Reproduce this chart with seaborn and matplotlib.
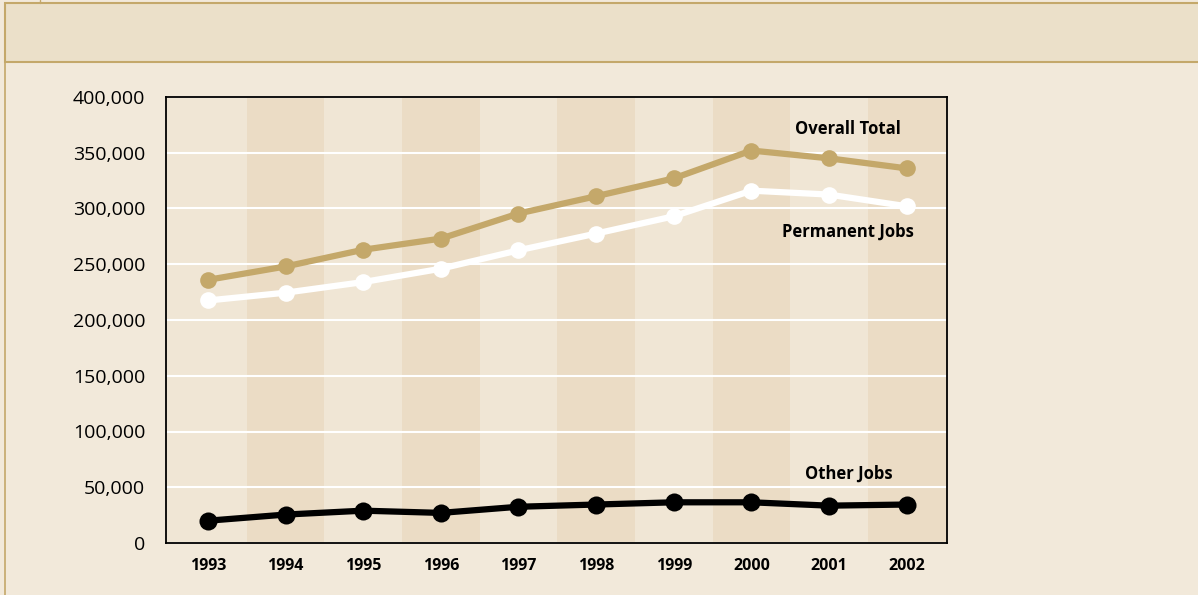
import pandas as pd
import matplotlib.pyplot as plt
import seaborn as sns
from matplotlib.patches import Rectangle
from matplotlib.lines import Line2D
from matplotlib.ticker import FuncFormatter

# Job counts by year
years = [1993, 1994, 1995, 1996, 1997, 1998, 1999, 2000, 2001, 2002]
overall_total = [236000, 248000, 263000, 273000, 295500, 311000, 327000, 352000, 345000, 336000]
permanent_jobs = [217500, 224500, 234000, 246000, 262500, 277500, 293000, 316000, 312500, 302000]
other_jobs = [20000, 25500, 29000, 27000, 32500, 34500, 36500, 36500, 33500, 34500]

y_ticks = [0, 50000, 100000, 150000, 200000, 250000, 300000, 350000, 400000]

# Colours
page_bg = '#f2e9da'
header_bg = '#ebe0c9'
tan = '#c4a86a'
stripe_light = '#f0e6d5'
stripe_dark = '#ebdcc5'

sns.set_theme(style='white')
plt.rcParams['font.family'] = ['Open Sans', 'DejaVu Sans']

fig = plt.figure(figsize=(11.98, 5.95), dpi=100, facecolor=page_bg)
ax = fig.add_axes([166 / 1198, 1 - 543 / 595, (947 - 166) / 1198, (543 - 97) / 595])

# Header band and outer frame
fig.patches.append(Rectangle((5 / 1198, 1 - 62 / 595), 1.0, 59 / 595, transform=fig.transFigure,
                             facecolor=header_bg, edgecolor=tan, linewidth=1.5, zorder=0))
fig.lines.append(Line2D([5 / 1198, 5 / 1198], [0, 1 - 3 / 595], transform=fig.transFigure,
                        color=tan, linewidth=1.2))
fig.lines.append(Line2D([40 / 1198, 40 / 1198], [1 - 3 / 595, 1], transform=fig.transFigure,
                        color=tan, linewidth=1.0))

# Alternating column shading (outer columns run to the frame)
for i, yr in enumerate(years):
    left = yr - (1.0 if i == 0 else 0.5)
    right = yr + (1.0 if i == len(years) - 1 else 0.5)
    ax.axvspan(left, right, color=stripe_dark if i % 2 else stripe_light, zorder=0, lw=0)

df = pd.DataFrame({'year': years, 'Overall Total': overall_total,
                   'Permanent Jobs': permanent_jobs, 'Other Jobs': other_jobs})

sns.lineplot(data=df, x='year', y='Overall Total', ax=ax, color=tan, linewidth=4.5,
             marker='o', markersize=12, markeredgewidth=0, zorder=3)
sns.lineplot(data=df, x='year', y='Permanent Jobs', ax=ax, color='white', linewidth=4.5,
             marker='o', markersize=12, markeredgewidth=0, zorder=3)
sns.lineplot(data=df, x='year', y='Other Jobs', ax=ax, color='black', linewidth=4.5,
             marker='o', markersize=13, markeredgewidth=0, zorder=3)

ax.set_xlim(years[0] - 0.54, years[-1] + 0.52)
ax.set_ylim(0, 400000)
ax.set_xticks(years)
ax.set_yticks(y_ticks)
ax.yaxis.set_major_formatter(FuncFormatter(lambda v, p: f'{int(v):,}'))
ax.set_xlabel('')
ax.set_ylabel('')
ax.grid(axis='y', color='white', linewidth=1.5, zorder=1)
ax.grid(axis='x', visible=False)
ax.set_axisbelow(True)

for s in ax.spines.values():
    s.set_color('black')
    s.set_linewidth(1.3)

ax.tick_params(axis='y', length=0, pad=15, labelsize=14, labelcolor='black')
ax.tick_params(axis='x', length=0, pad=11, labelsize=11.5, labelcolor='black')
for lbl in ax.get_xticklabels():
    lbl.set_fontweight('bold')

ax.text(2001.25, 371000, 'Overall Total', ha='center', va='center', fontsize=12,
        fontweight='bold', color='black')
ax.text(2001.25, 279000, 'Permanent Jobs', ha='center', va='center', fontsize=12,
        fontweight='bold', color='black')
ax.text(2001.25, 62500, 'Other Jobs', ha='center', va='center', fontsize=12,
        fontweight='bold', color='black')

fig.savefig('out.png', dpi=100, facecolor=page_bg)
